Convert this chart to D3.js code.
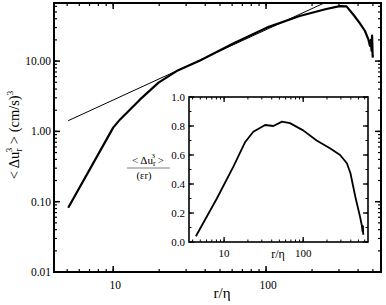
<!DOCTYPE html>
<html>
<head>
<meta charset="utf-8">
<script src="https://cdn.jsdelivr.net/npm/d3@7"></script>
<style>
  body { margin: 0; background: #fff; }
  svg { display: block; }
  text { font-family: "Liberation Serif", "DejaVu Serif", serif; fill: #000; }
</style>
</head>
<body>
<svg id="chart" width="386" height="305"></svg>
<script>
// main panel: third-order structure function vs r/eta
var mainR = [5.08, 10, 11.1, 15, 19.8, 26, 37, 61, 101, 166, 248, 303, 336, 372, 409, 443, 467, 478, 485, 490, 494, 498, 500];
var mainS3 = [0.082, 1.13, 1.48, 2.85, 4.93, 7.2, 10.2, 17.8, 29.9, 43.7, 55, 60.6, 60, 46, 35, 27, 20.4, 16.5, 20, 14, 23, 12, 11.2];
// slope-1 reference line
var refR = [5.08, 240];
var refS3 = [1.42, 67];
var mainYTicks = [0.01, 0.1, 1, 10];
var mainYLabels = ["0.01", "0.10", "1.00", "10.00"];
var mainXTicks = [10, 100];

// inset: compensated S3/(eps r)
var insetR = [4.4, 8.1, 13.1, 18.5, 23.4, 33, 42, 54, 68, 100, 148, 218, 293, 357, 396, 457, 523, 550, 565, 570, 574, 578];
var insetC = [0.04, 0.30, 0.52, 0.69, 0.76, 0.807, 0.80, 0.83, 0.82, 0.77, 0.70, 0.646, 0.60, 0.543, 0.474, 0.31, 0.175, 0.117, 0.07, 0.11, 0.06, 0.05];
var insetYTicks = [0, 0.2, 0.4, 0.6, 0.8, 1.0];
var insetXTicks = [10, 100];

var svg = d3.select("#chart");

function logMinor(domain) {
  var out = [];
  var lo = Math.floor(Math.log10(domain[0])), hi = Math.ceil(Math.log10(domain[1]));
  for (var e = lo; e <= hi; e++) {
    for (var m = 1; m < 10; m++) {
      var v = m * Math.pow(10, e);
      if (v >= domain[0] && v <= domain[1]) out.push(v);
    }
  }
  return out;
}

function drawTicks(g, scale, vals, orient, pos, len, sw) {
  vals.forEach(function(v) {
    var p = scale(v);
    var l = g.append("line").attr("stroke", "#000").attr("stroke-width", sw);
    if (orient == "left") l.attr("x1", pos).attr("x2", pos + len).attr("y1", p).attr("y2", p);
    if (orient == "right") l.attr("x1", pos).attr("x2", pos - len).attr("y1", p).attr("y2", p);
    if (orient == "bottom") l.attr("x1", p).attr("x2", p).attr("y1", pos).attr("y2", pos - len);
    if (orient == "top") l.attr("x1", p).attr("x2", p).attr("y1", pos).attr("y2", pos + len);
  });
}

// ---- main panel
var x = d3.scaleLog().domain([4.1, 565]).range([54, 381]);
var y = d3.scaleLog().domain([0.01, 67]).range([272, 3]);

var mg = svg.append("g");
var xr = x.range(), yr = y.range();

var xMinor = logMinor(x.domain()), yMinor = logMinor(y.domain());
drawTicks(mg, x, xMinor, "bottom", yr[0], 3, 1.2);
drawTicks(mg, x, xMinor, "top", yr[1], 3, 1.2);
drawTicks(mg, y, yMinor, "left", xr[0], 3, 1.2);
drawTicks(mg, y, yMinor, "right", xr[1], 3, 1.2);
drawTicks(mg, x, mainXTicks, "bottom", yr[0], 6, 1.5);
drawTicks(mg, x, mainXTicks, "top", yr[1], 6, 1.5);
drawTicks(mg, y, mainYTicks, "left", xr[0], 6, 1.5);
drawTicks(mg, y, mainYTicks, "right", xr[1], 6, 1.5);

mg.append("rect")
  .attr("x", xr[0]).attr("y", yr[1])
  .attr("width", xr[1] - xr[0]).attr("height", yr[0] - yr[1])
  .attr("fill", "none").attr("stroke", "#000").attr("stroke-width", 2);

mainYTicks.forEach(function(v, i) {
  mg.append("text")
    .attr("x", xr[0] - 3).attr("y", y(v) + 4)
    .attr("text-anchor", "end").attr("font-size", 11.5)
    .text(mainYLabels[i]);
});
mainXTicks.forEach(function(v) {
  mg.append("text")
    .attr("x", x(v) + 2).attr("y", 289)
    .attr("text-anchor", "middle").attr("font-size", 11.5)
    .text(v);
});

mg.append("text")
  .attr("x", 222).attr("y", 298)
  .attr("text-anchor", "middle").attr("font-size", 15)
  .text("r/η");

var yt = mg.append("text")
  .attr("transform", "translate(19,135) rotate(-90)")
  .attr("text-anchor", "middle").attr("font-size", 14.5);
yt.append("tspan").text("< Δu");
yt.append("tspan").attr("font-size", 10).attr("dy", 3).text("r");
yt.append("tspan").attr("font-size", 9).attr("dx", -4).attr("dy", -10).text("3");
yt.append("tspan").attr("dy", 7).text(" > (cm/s)");
yt.append("tspan").attr("font-size", 9).attr("dy", -6).text("3");

var lineMain = d3.line().x(function(d) { return x(d[0]); }).y(function(d) { return y(d[1]); });

mg.append("path")
  .datum(d3.zip(refR, refS3))
  .attr("d", lineMain)
  .attr("fill", "none").attr("stroke", "#000").attr("stroke-width", 1);

mg.append("path")
  .datum(d3.zip(mainR, mainS3))
  .attr("d", lineMain)
  .attr("fill", "none").attr("stroke", "#000").attr("stroke-width", 2.2)
  .attr("stroke-linejoin", "round");

// ---- inset
var xi = d3.scaleLog().domain([3.6, 660]).range([189, 368]);
var yi = d3.scaleLinear().domain([0, 1]).range([242, 97]);
var ig = svg.append("g");
var xir = xi.range(), yir = yi.range();

ig.append("rect")
  .attr("x", xir[0]).attr("y", yir[1])
  .attr("width", xir[1] - xir[0]).attr("height", yir[0] - yir[1])
  .attr("fill", "#fff");

var xiMinor = logMinor(xi.domain());
var yiMinor = d3.range(0, 1.01, 0.1);
drawTicks(ig, xi, xiMinor, "bottom", yir[0], 2.5, 1);
drawTicks(ig, xi, xiMinor, "top", yir[1], 2.5, 1);
drawTicks(ig, yi, yiMinor, "left", xir[0], 2.5, 1);
drawTicks(ig, yi, yiMinor, "right", xir[1], 2.5, 1);
drawTicks(ig, xi, insetXTicks, "bottom", yir[0], 5, 1.3);
drawTicks(ig, xi, insetXTicks, "top", yir[1], 5, 1.3);
drawTicks(ig, yi, insetYTicks, "left", xir[0], 5, 1.3);
drawTicks(ig, yi, insetYTicks, "right", xir[1], 5, 1.3);

ig.append("rect")
  .attr("x", xir[0]).attr("y", yir[1])
  .attr("width", xir[1] - xir[0]).attr("height", yir[0] - yir[1])
  .attr("fill", "none").attr("stroke", "#000").attr("stroke-width", 1.6);

insetYTicks.forEach(function(v) {
  ig.append("text")
    .attr("x", xir[0] - 4).attr("y", yi(v) + 4)
    .attr("text-anchor", "end").attr("font-size", 11)
    .text(d3.format(".1f")(v));
});
insetXTicks.forEach(function(v) {
  ig.append("text")
    .attr("x", xi(v)).attr("y", 257)
    .attr("text-anchor", "middle").attr("font-size", 11)
    .text(v);
});
ig.append("text")
  .attr("x", 278).attr("y", 258)
  .attr("text-anchor", "middle").attr("font-size", 12)
  .text("r/η");

// inset y title as a fraction
var ft = ig.append("text")
  .attr("x", 148).attr("y", 164)
  .attr("text-anchor", "middle").attr("font-size", 11);
ft.append("tspan").text("< Δu");
ft.append("tspan").attr("font-size", 8).attr("dy", 2).text("r");
ft.append("tspan").attr("font-size", 7).attr("dx", -4).attr("dy", -8).text("3");
ft.append("tspan").attr("dy", 6).text(" >");
ig.append("line")
  .attr("x1", 127).attr("x2", 170).attr("y1", 168).attr("y2", 168)
  .attr("stroke", "#aaa").attr("stroke-width", 1.3);
ig.append("text")
  .attr("x", 144).attr("y", 179)
  .attr("text-anchor", "middle").attr("font-size", 10.5)
  .text("(εr)");

ig.append("path")
  .datum(d3.zip(insetR, insetC))
  .attr("d", d3.line().x(function(d) { return xi(d[0]); }).y(function(d) { return yi(d[1]); }))
  .attr("fill", "none").attr("stroke", "#000").attr("stroke-width", 1.8)
  .attr("stroke-linejoin", "round");
</script>
</body>
</html>
